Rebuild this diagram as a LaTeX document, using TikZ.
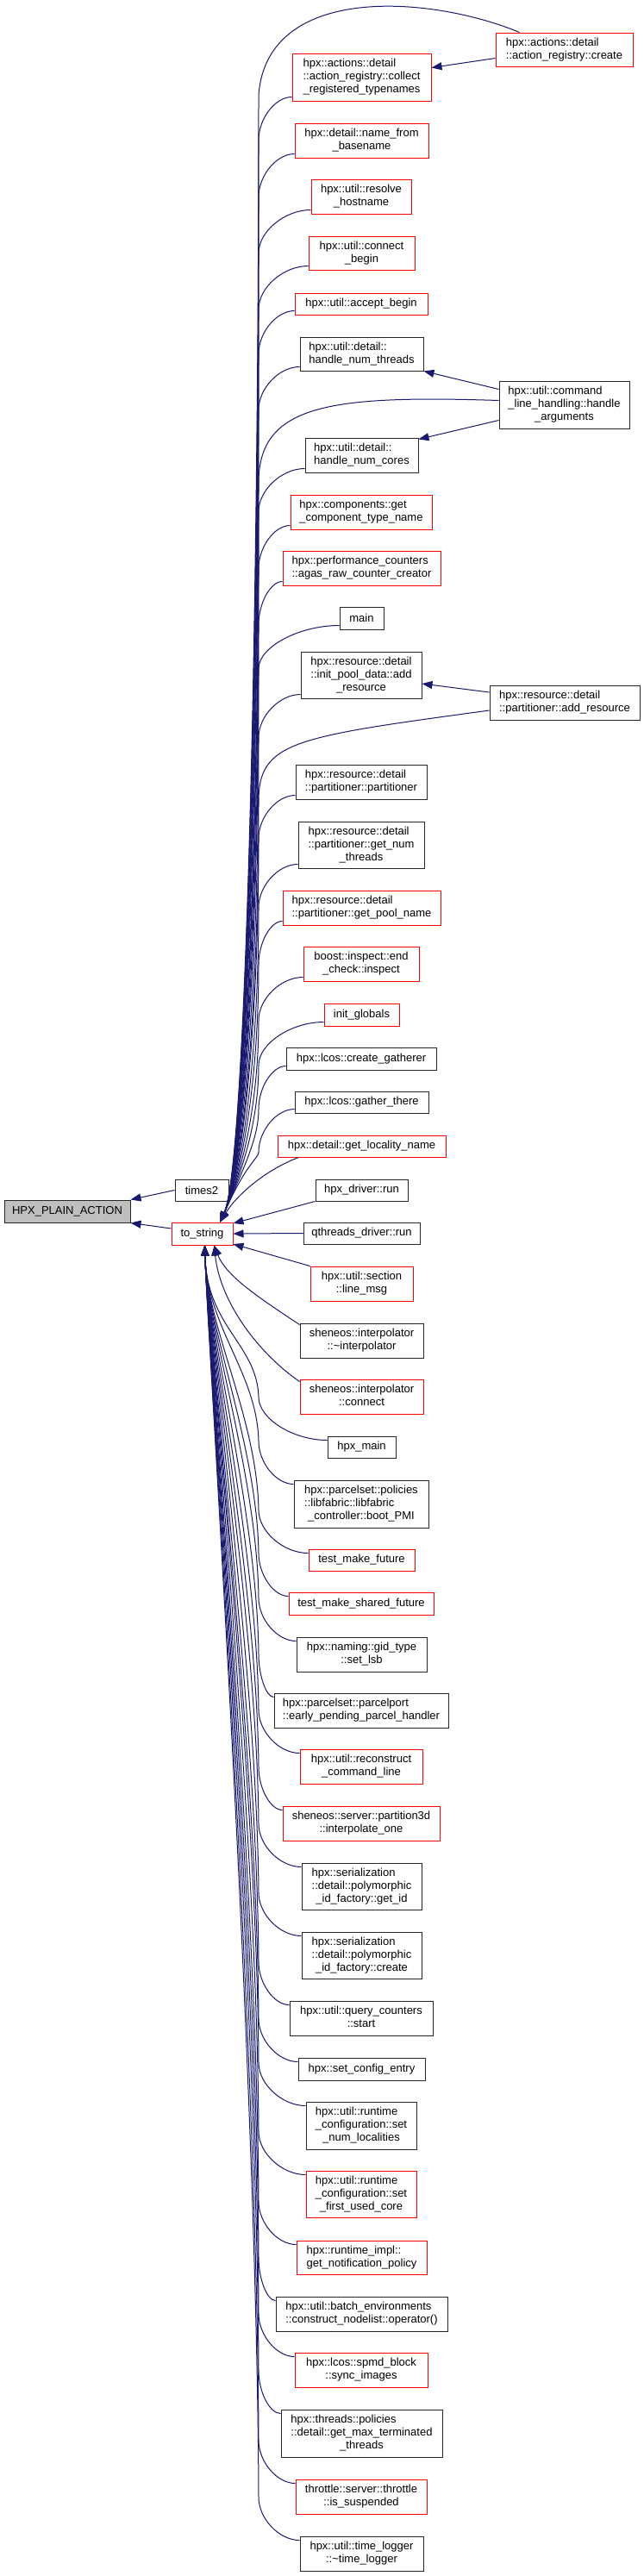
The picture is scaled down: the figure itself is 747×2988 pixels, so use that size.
\documentclass[tikz,border=0pt]{standalone}
\usepackage{fontspec}
\setmainfont{Liberation Sans}
\usetikzlibrary{arrows.meta,calc}
\definecolor{navy}{HTML}{191970}
\definecolor{bred}{HTML}{FF0000}
\definecolor{hgray}{HTML}{BFBFBF}
\newcommand\Lii[2]{\begin{tabular}{@{}l@{}}#1\\\multicolumn{1}{@{}c@{}}{#2}\end{tabular}}
\newcommand\Liii[3]{\begin{tabular}{@{}l@{}}#1\\#2\\\multicolumn{1}{@{}c@{}}{#3}\end{tabular}}
\newcommand\mknode[7]{\node[#6, minimum width={(#4-#2)*1pt}, minimum height={(#5-#3)*1pt}] (#1) at ({(#2+#4)/2},{(#3+#5)/2}) {#7};}
\newcommand\topedge[1]{\draw[edge] let \p1=($(#1.south west)+(0,-5)$) in ($(#1.south west)+(0,-5)$) .. controls ({(\x1+300pt)/2},\y1) and (300pt,{\y1-25pt}) .. (300pt,{\y1-50pt}) .. controls (300pt,{(\y1-50pt-1350pt)/2}) and (285pt,-1350pt) .. (tsT);}
\newcommand\botedge[1]{\draw[edge] let \p1=($(#1.north west)+(0,5)$) in ($(#1.north west)+(0,5)$) .. controls ({(\x1+300pt)/2},\y1) and (300pt,{\y1+25pt}) .. (300pt,{\y1+50pt}) .. controls (298pt,{0.65*(\y1+50pt)-0.35*1444pt}) and (240pt,-1540pt) .. (tsB);}
\begin{document}
\begin{tikzpicture}[x=1pt,y=-1pt,
  box/.style={draw=black!85, line width=1pt, fill=white, inner sep=1pt, font=\fontsize{13}{15}\selectfont},
  rbox/.style={box, draw=bred},
  gbox/.style={box, fill=hgray},
  edge/.style={draw=navy, line width=1pt, -{Triangle[length=12pt,width=9pt]}}]
\fill[white] (0,0) rectangle (747,2988);
\useasboundingbox (0,0) rectangle (747,2988);
% left
\mknode{hpx}{5}{1392}{151}{1418}{gbox}{HPX\_PLAIN\_ACTION}
\mknode{t2}{203}{1368}{265}{1393}{box}{times2}
\mknode{ts}{199}{1418}{270}{1444}{rbox}{to\_string}
% right column
\mknode{R1}{575}{38}{734}{77}{rbox}{\Lii{hpx::actions::detail}{::action\_registry::create}}
\mknode{R2}{579}{442}{730}{497}{box}{\Liii{hpx::util::command}{\_line\_handling::handle}{\_arguments}}
\mknode{R3}{568}{795}{742}{835}{box}{\Lii{hpx::resource::detail}{::partitioner::add\_resource}}
% middle column
\mknode{M1}{339}{62}{500}{117}{rbox}{\Liii{hpx::actions::detail}{::action\_registry::collect}{\_registered\_typenames}}
\mknode{M2}{342}{143}{497}{183}{rbox}{\Lii{hpx::detail::name\_from}{\_basename}}
\mknode{M3}{361}{208}{477}{248}{rbox}{\Lii{hpx::util::resolve}{\_hostname}}
\mknode{M4}{358}{274}{481}{313}{rbox}{\Lii{hpx::util::connect}{\_begin}}
\mknode{M5}{342}{340}{496}{365}{rbox}{hpx::util::accept\_begin}
\mknode{M6}{348}{391}{491}{430}{box}{\Lii{hpx::util::detail::}{handle\_num\_threads}}
\mknode{M7}{354}{508}{485}{548}{box}{\Lii{hpx::util::detail::}{handle\_num\_cores}}
\mknode{M8}{337}{574}{501}{614}{rbox}{\Lii{hpx::components::get}{\_component\_type\_name}}
\mknode{M9}{328}{639}{511}{679}{rbox}{\Lii{hpx::performance\_counters}{::agas\_raw\_counter\_creator}}
\mknode{M10}{394}{704}{445}{730}{box}{main}
\mknode{M11}{349}{756}{489}{810}{box}{\Liii{hpx::resource::detail}{::init\_pool\_data::add}{\_resource}}
\mknode{M12}{343}{887}{495}{927}{box}{\Lii{hpx::resource::detail}{::partitioner::partitioner}}
\mknode{M13}{346}{953}{492}{1007}{box}{\Liii{hpx::resource::detail}{::partitioner::get\_num}{\_threads}}
\mknode{M14}{328}{1033}{511}{1073}{rbox}{\Lii{hpx::resource::detail}{::partitioner::get\_pool\_name}}
\mknode{M15}{352}{1098}{486}{1138}{rbox}{\Lii{boost::inspect::end}{\_check::inspect}}
\mknode{M16}{376}{1164}{463}{1190}{rbox}{init\_globals}
\mknode{M17}{332}{1215}{506}{1241}{box}{hpx::lcos::create\_gatherer}
\mknode{M18}{342}{1266}{497}{1291}{box}{hpx::lcos::gather\_there}
\mknode{M19}{322}{1317}{517}{1342}{rbox}{hpx::detail::get\_locality\_name}
\mknode{M20}{366}{1368}{473}{1393}{box}{hpx\_driver::run}
\mknode{M21}{352}{1418}{487}{1443}{box}{qthreads\_driver::run}
\mknode{M22}{360}{1469}{479}{1509}{rbox}{\Lii{hpx::util::section}{::line\_msg}}
\mknode{M23}{348}{1535}{491}{1575}{box}{\Lii{sheneos::interpolator}{::\textasciitilde interpolator}}
\mknode{M24}{348}{1600}{491}{1640}{rbox}{\Lii{sheneos::interpolator}{::connect}}
\mknode{M25}{380}{1666}{459}{1691}{box}{hpx\_main}
\mknode{M26}{341}{1717}{497}{1772}{box}{\Liii{hpx::parcelset::policies}{::libfabric::libfabric}{\_controller::boot\_PMI}}
\mknode{M27}{358}{1797}{481}{1822}{rbox}{test\_make\_future}
\mknode{M28}{335}{1847}{503}{1873}{rbox}{test\_make\_shared\_future}
\mknode{M29}{344}{1899}{495}{1939}{box}{\Lii{hpx::naming::gid\_type}{::set\_lsb}}
\mknode{M30}{318}{1964}{520}{2004}{box}{\Lii{hpx::parcelset::parcelport}{::early\_pending\_parcel\_handler}}
\mknode{M31}{348}{2029}{490}{2069}{rbox}{\Lii{hpx::util::reconstruct}{\_command\_line}}
\mknode{M32}{328}{2095}{510}{2135}{rbox}{\Lii{sheneos::server::partition3d}{::interpolate\_one}}
\mknode{M33}{350}{2161}{489}{2215}{box}{\Liii{hpx::serialization}{::detail::polymorphic}{\_id\_factory::get\_id}}
\mknode{M34}{350}{2241}{489}{2295}{box}{\Liii{hpx::serialization}{::detail::polymorphic}{\_id\_factory::create}}
\mknode{M35}{336}{2321}{502}{2361}{box}{\Lii{hpx::util::query\_counters}{::start}}
\mknode{M36}{346}{2387}{493}{2413}{box}{hpx::set\_config\_entry}
\mknode{M37}{355}{2438}{483}{2493}{box}{\Liii{hpx::util::runtime}{\_configuration::set}{\_num\_localities}}
\mknode{M38}{355}{2518}{483}{2572}{rbox}{\Liii{hpx::util::runtime}{\_configuration::set}{\_first\_used\_core}}
\mknode{M39}{344}{2599}{495}{2638}{rbox}{\Lii{hpx::runtime\_impl::}{get\_notification\_policy}}
\mknode{M40}{320}{2664}{519}{2704}{box}{\Lii{hpx::util::batch\_environments}{::construct\_nodelist::operator()}}
\mknode{M41}{342}{2729}{496}{2769}{rbox}{\Lii{hpx::lcos::spmd\_block}{::sync\_images}}
\mknode{M42}{326}{2795}{513}{2850}{box}{\Liii{hpx::threads::policies}{::detail::get\_max\_terminated}{\_threads}}
\mknode{M43}{343}{2876}{495}{2916}{rbox}{\Lii{throttle::server::throttle}{::is\_suspended}}
\mknode{M44}{348}{2942}{491}{2982}{box}{\Lii{hpx::util::time\_logger}{::\textasciitilde time\_logger}}
% connection points on to_string
\coordinate (tsT) at ($(ts.north east)+(-15,0)$);
\coordinate (tsB) at ($(ts.south)+(3,0)$);
\coordinate (tsB2) at ($(ts.south)+(14,0)$);
% left edges
\draw[edge] (t2.west) -- (hpx.north east);
\draw[edge] ($(ts.west)+(0,-6)$) -- (hpx.south east);
% right column edges
\draw[edge] ($(R1.west)+(0,10)$) -- ($(M1.east)+(0,-11)$);
\draw[edge] ($(R1.north west)+(28,0)$) .. controls (500,-5) and (310,-20) .. (300,110) .. controls (300,730) and (285,1350) .. (tsT);
\draw[edge] ($(R2.west)+(0,-18)$) -- (M6.south east);
\draw[edge] ($(R2.west)+(0,18)$) -- ($(M7.north east)+(0,2)$);
\draw[edge] ($(R2.west)+(0,-5)$) .. controls (380,458) and (300,470) .. (300,560) .. controls (300,955) and (285,1350) .. (tsT);
\draw[edge] ($(R3.west)+(0,-12)$) -- ($(M11.east)+(0,10)$);
\draw[edge] ($(R3.west)+(0,9)$) .. controls (340,855) and (300,860) .. (300,930) .. controls (300,1140) and (285,1350) .. (tsT);
% upper callers
\foreach \nn in {M1,M2,M3,M4,M5,M6,M7,M8,M9,M10,M11,M12,M13,M14,M15,M16,M17,M18}{\topedge{\nn}}
\draw[edge] ($(M19.south west)+(25,0)$) .. controls (310,1356) and (275,1385) .. (tsT);
\draw[edge] (M20.south west) -- ($(ts.east)+(0,-12)$);
\draw[edge] (M21.west) -- (ts.east);
\draw[edge] (M22.north west) -- ($(ts.east)+(0,12)$);
\draw[edge] ($(M23.north west)+(0,2)$) .. controls (300,1505) and (262,1480) .. (tsB2);
\draw[edge] ($(M24.north west)+(0,3)$) .. controls (300,1570) and (255,1510) .. (tsB2);
% lower callers
\foreach \nn in {M25,M26,M27,M28,M29,M30,M31,M32,M33,M34,M35,M36,M37,M38,M39,M40,M41,M42,M43,M44}{\botedge{\nn}}
\end{tikzpicture}
\end{document}
